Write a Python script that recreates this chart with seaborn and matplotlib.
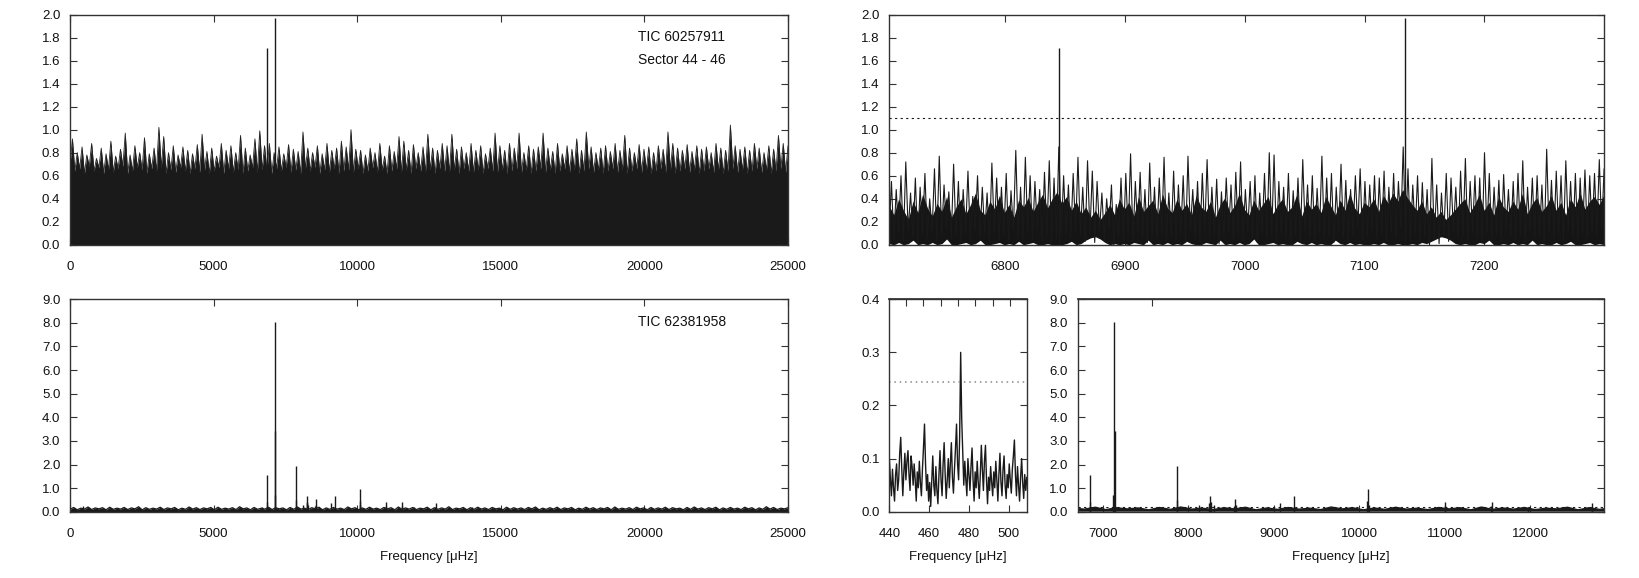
import numpy as np
import matplotlib
matplotlib.use("Agg")
import matplotlib.pyplot as plt
from matplotlib.ticker import FormatStrFormatter
import seaborn as sns

# ---------------- data (amplitudes) ----------------
# TIC 60257911, overview envelope 0-25000 uHz (hundredths)
tl_env = [70,92, 64,80, 66,85, 62,78, 68,88, 64,75, 67,84, 62,79, 65,90, 63,77,
          66,83, 68,97, 62,78, 64,86, 67,80, 65,93, 62,79, 66,84, 64,102, 67,94,
          62,80, 65,86, 63,78, 67,85, 64,82, 62,79, 66,87, 63,96, 65,81, 62,84,
          64,77, 67,88, 62,82, 66,86, 63,80, 65,95, 62,84, 64,78, 67,92, 63,99,
          65,86, 64,88, 62,80, 66,85, 64,79, 67,87, 63,83, 65,81, 62,98, 66,84,
          64,80, 67,86, 62,79, 65,88, 63,82, 66,84, 62,90, 64,85, 65,100, 63,83,
          66,82, 62,78, 64,84, 67,80, 63,88, 65,77, 62,86, 64,81, 66,94, 63,90,
          65,82, 62,87, 66,80, 64,85, 63,96, 65,84, 62,82, 66,88, 64,86, 63,96,
          65,83, 62,85, 66,80, 64,88, 63,82, 65,86, 62,79, 66,84, 64,97, 63,86,
          65,82, 62,88, 64,84, 66,97, 63,80, 65,86, 62,83, 64,85, 66,97, 63,84,
          65,81, 62,88, 64,79, 66,86, 63,83, 65,92, 62,82, 64,98, 66,85, 63,80,
          65,84, 62,86, 64,81, 66,88, 63,82, 65,95, 62,84, 64,80, 66,87, 63,83,
          65,85, 62,80, 64,86, 66,83, 63,98, 65,88, 62,84, 64,82, 66,87, 63,81,
          65,86, 62,83, 64,85, 66,80, 63,88, 65,84, 62,82, 64,104, 66,86, 63,83,
          65,85, 62,82, 64,88, 66,84, 63,80, 65,86, 62,83, 64,95, 66,88, 63,86]

# TIC 60257911, zoom 6703-7300 uHz (hundredths): trough/peak pairs
tr_amp = [8,55, 4,48, 10,60, 3,72, 12,45, 6,58, 2,50, 9,62, 5,40, 11,66,
          3,77, 8,52, 14,46, 5,70, 7,55, 2,48, 10,64, 4,42, 12,60, 6,50,
          9,45, 3,71, 11,58, 5,50, 8,62, 2,47, 13,82, 6,50, 4,76, 10,60,
          5,55, 12,48, 3,63, 8,73, 2,58, 4,85, 7,60, 9,52, 6,62, 11,76,
          8,50, 3,73, 10,64, 2,55, 12,45, 5,40, 14,52, 0,35, 6,58, 3,62,
          9,79, 4,55, 11,63, 6,48, 2,71, 8,50, 5,58, 10,76, 3,45, 7,64,
          4,52, 9,60, 2,77, 12,48, 6,55, 3,62, 10,74, 5,50, 8,57, 1,46,
          7,58, 11,52, 4,63, 9,72, 3,48, 12,55, 6,60, 2,45, 10,62, 5,80,
          8,78, 3,55, 11,50, 6,62, 2,47, 9,58, 4,74, 12,52, 7,60, 3,49,
          10,77, 5,58, 8,62, 2,50, 11,70, 6,56, 3,48, 9,60, 14,66, 4,55,
          7,52, 12,60, 5,58, 9,64, 3,50, 11,62, 6,55, 15,85, 8,66, 4,52,
          10,60, 2,54, 7,48, 0,75, 5,52, 1,45, 9,62, 3,58, 12,50, 6,64,
          8,75, 4,55, 11,60, 6,58, 2,80, 10,62, 5,50, 9,56, 3,61, 12,48,
          7,55, 4,62, 9,73, 2,50, 11,58, 6,60, 8,52, 3,83, 10,56, 5,64,
          9,60, 4,73, 12,55, 7,62, 3,58, 10,65, 6,60, 11,62, 8,74, 13,66]

# TIC 60257911, zoom: top of the dense core of the spectrum (hundredths, 150 bins)
tr_core = [34,26,40,30,22,38,28,44,32,25, 36,29,42,24,33,40,27,35,45,30,
           26,38,31,43,28,35,24,39,33,41, 29,37,44,32,40,46,36,42,30,38,
           27,33,24,30,22,28,35,26,40,31, 37,25,42,29,34,39,27,44,32,28,
           40,30,36,26,43,33,29,38,24,35, 41,28,34,45,31,26,39,30,36,42,
           27,35,40,29,33,44,25,38,31,36, 28,42,34,26,39,30,45,32,27,37,
           33,40,29,43,36,45,38,48,41,35, 30,38,27,33,24,29,22,26,31,36,
           40,28,35,44,30,37,26,42,33,29, 38,31,45,27,36,41,29,34,43,30,
           37,26,40,33,45,31,38,42,35,44]
# TIC 60257911, zoom: bottom of the dense core (hundredths, 150 bins)
tr_floor = [1,0,2,0,1,4,0,1,0,2, 0,1,5,0,0,1,2,0,1,4,
            0,0,1,2,0,1,0,3,0,1, 2,0,0,1,0,0,0,1,3,0,
            1,4,6,7,5,2,0,1,0,1, 0,2,1,0,4,0,1,0,2,0,
            1,0,3,1,0,0,2,1,0,4, 0,1,0,2,0,1,5,0,0,1,
            2,0,1,0,0,3,1,0,2,0, 1,0,0,4,1,0,2,0,1,0,
            0,1,0,2,0,0,1,0,0,1, 0,2,1,3,5,7,6,4,1,0,
            1,0,0,2,1,4,0,0,1,0, 2,0,1,0,4,0,1,0,0,2,
            0,1,3,0,0,1,2,0,1,0]

# main peaks of TIC 60257911
pk_a_freq = [6845, 7134]
pk_a_amp = [1.71, 1.97]

# TIC 62381958, low-frequency window 440-509 uHz (thousandths)
sm_amp = [100, 60, 30, 80, 45, 20, 70, 90, 40, 60, 110, 140, 80, 30, 75, 110, 60, 95, 115, 70,
          40, 105, 85, 50, 90, 60, 20, 75, 45, 95, 55, 30, 80, 120, 165, 90, 40, 70, 20, 55,
          10, 60, 105, 50, 30, 85, 40, 15, 70, 115, 60, 30, 90, 130, 70, 25, 60, 100, 45, 90,
          130, 65, 35, 80, 120, 165, 90, 60, 140, 300, 175, 110, 50, 95, 60, 30, 100, 70, 40, 85,
          120, 60, 20, 75, 45, 95, 55, 25, 70, 125, 80, 40, 95, 125, 60, 15, 65, 40, 85, 55,
          30, 75, 45, 95, 60, 20, 70, 110, 55, 30, 80, 105, 50, 25, 70, 45, 90, 60, 35, 80,
          105, 135, 70, 30, 85, 50, 20, 65, 100, 55, 25, 70, 40, 65]

# TIC 62381958, noise floor 0-25000 uHz (hundredths)
base_b = [10,18, 8,15, 11,20, 9,16, 12,17, 8,19, 10,15, 11,18, 9,16, 12,21,
          8,17, 10,15, 11,19, 9,16, 12,18, 8,15, 10,20, 11,17, 9,16, 12,18,
          8,19, 10,15, 11,17, 9,21, 12,16, 8,18, 10,15, 11,19, 9,17, 12,16,
          8,18, 10,20, 11,15, 9,17, 12,19, 8,16, 10,18, 11,15, 9,20, 12,17,
          8,16, 10,19, 11,15, 9,18, 12,17, 8,20, 10,16, 11,18, 9,15, 12,19,
          8,17, 10,16, 11,21, 9,15, 12,18, 8,17, 10,19, 11,16, 9,18, 12,15,
          8,19, 10,17, 11,16, 9,18, 12,20, 8,15, 10,17, 11,19, 9,16, 12,18,
          8,15, 10,19, 11,17, 9,16, 12,18, 8,20, 10,15, 11,17, 9,19, 12,16,
          8,18, 10,16, 11,19, 9,17, 12,15, 8,18, 10,20, 11,16, 9,17, 12,19,
          8,16, 10,18, 11,15, 9,19, 12,17, 8,16, 10,21, 11,18, 9,15, 12,17]

# peaks of TIC 62381958
pk_b_freq = [450, 6700, 6845, 6855, 7120, 7134, 7145, 7865, 7870, 8120, 8240, 8250, 8262,
             8300, 8530, 8548, 8560, 9070, 9240, 10095, 10100, 10110, 11000, 11008,
             11545, 11552, 11980, 12725, 12730, 14000]
pk_b_amp = [0.25, 0.18, 1.55, 0.40, 0.70, 8.05, 3.40, 0.50, 1.95, 0.30, 0.35, 0.65, 0.40,
            0.30, 0.25, 0.55, 0.30, 0.35, 0.65, 0.45, 0.95, 0.30, 0.40, 0.25,
            0.25, 0.40, 0.22, 0.20, 0.35, 0.18]

# significance thresholds
thr_a = 1.10
thr_b = 0.21
thr_sm = 0.245

# tick marks
tl_xticks = [0, 5000, 10000, 15000, 20000, 25000]
tr_xticks = [6800, 6900, 7000, 7100, 7200]
sm_xticks = [440, 460, 480, 500]
sm_top_ticks = [448.4, 457.1, 465.8, 474.5, 483.2, 491.9, 500.6]
br_xticks = [7000, 8000, 9000, 10000, 11000, 12000]
br_top_ticks = [7570]

labels_tl = ["TIC 60257911", "Sector 44 - 46"]
label_bl = "TIC 62381958"
xlabel = "Frequency [\u03bcHz]"

# ---------------- style ----------------
sns.set_theme(style="ticks")
plt.rcParams["font.family"] = ["Liberation Sans", "DejaVu Sans"]
plt.rcParams["font.size"] = 9.5
FRAME = "#333333"
TXT = "#111111"

fig = plt.figure(figsize=(16.4, 5.78), dpi=100)
ax_tl = fig.add_axes([0.0427, 0.5765, 0.4378, 0.3983])
ax_tr = fig.add_axes([0.5421, 0.5765, 0.4360, 0.3983])
ax_bl = fig.add_axes([0.0427, 0.1147, 0.4378, 0.3675])
ax_sm = fig.add_axes([0.5423, 0.1147, 0.0838, 0.3675])
ax_br = fig.add_axes([0.6571, 0.1147, 0.3209, 0.3675])


def style(ax, top=True):
    for s in ax.spines.values():
        s.set_color(FRAME)
        s.set_linewidth(1.0)
    ax.tick_params(direction="in", length=5, width=0.8, color=FRAME,
                   top=top, right=True, labelsize=9.5, labelcolor=TXT)
    ax.tick_params(axis="x", pad=12)
    ax.tick_params(axis="y", pad=7)
    ax.set_xlabel("")
    ax.set_ylabel("")


# top-left: overview of TIC 60257911
x_tl = np.linspace(0, 25000, len(tl_env))
y_tl = np.array(tl_env) / 100
ax_tl.fill_between(x_tl, 0, y_tl, color="k", lw=0)
sns.lineplot(x=x_tl, y=y_tl, ax=ax_tl, color="#222222", lw=0.6, estimator=None)
ax_tl.vlines(pk_a_freq, 0, pk_a_amp, color="k", lw=1.0)
ax_tl.set_xlim(0, 25000)
ax_tl.set_ylim(0, 2.0)
ax_tl.set_xticks(tl_xticks)
ax_tl.set_yticks(np.arange(0, 2.01, 0.2))
ax_tl.yaxis.set_major_formatter(FormatStrFormatter("%.1f"))
ax_tl.text(0.852, 0.904, labels_tl[0], transform=ax_tl.transAxes, ha="center",
           va="center", fontsize=10, color=TXT)
ax_tl.text(0.852, 0.803, labels_tl[1], transform=ax_tl.transAxes, ha="center",
           va="center", fontsize=10, color=TXT)
style(ax_tl)

# top-right: zoom of TIC 60257911
x_core = np.linspace(6703, 7300, len(tr_core))
ax_tr.fill_between(x_core, np.array(tr_floor) / 100, np.array(tr_core) / 100,
                   color="#151515", lw=0)
x_tr = np.linspace(6703, 7300, len(tr_amp))
y_tr = np.array(tr_amp) / 100
sns.lineplot(x=x_tr, y=y_tr, ax=ax_tr, color="k", lw=0.8, estimator=None)
ax_tr.vlines(pk_a_freq, 0, pk_a_amp, color="k", lw=1.0)
ax_tr.axhline(thr_a, color="k", lw=0.8, ls=(0, (2, 3)))
ax_tr.set_xlim(6703, 7300)
ax_tr.set_ylim(0, 2.0)
ax_tr.set_xticks(tr_xticks)
ax_tr.set_yticks(np.arange(0, 2.01, 0.2))
ax_tr.yaxis.set_major_formatter(FormatStrFormatter("%.1f"))
style(ax_tr)

# bottom-left: overview of TIC 62381958
x_b = np.linspace(0, 25000, len(base_b))
y_b = np.array(base_b) / 100
ax_bl.fill_between(x_b, 0, y_b, color="k", lw=0)
sns.lineplot(x=x_b, y=y_b, ax=ax_bl, color="k", lw=0.9, estimator=None)
ax_bl.vlines(pk_b_freq, 0, pk_b_amp, color="k", lw=1.0)
ax_bl.set_xlim(0, 25000)
ax_bl.set_ylim(0, 9.0)
ax_bl.set_xticks(tl_xticks)
ax_bl.set_yticks(np.arange(0, 9.01, 1.0))
ax_bl.yaxis.set_major_formatter(FormatStrFormatter("%.1f"))
ax_bl.text(0.852, 0.895, label_bl, transform=ax_bl.transAxes, ha="center",
           va="center", fontsize=10, color=TXT)
style(ax_bl)
ax_bl.set_xlabel(xlabel, fontsize=9.5, color=TXT, labelpad=8)

# bottom-middle: low-frequency window
x_sm = np.linspace(440, 509, len(sm_amp))
y_sm = np.array(sm_amp) / 1000
sns.lineplot(x=x_sm, y=y_sm, ax=ax_sm, color="#1a1a1a", lw=1.0, estimator=None)
ax_sm.axhline(thr_sm, color="#888888", lw=1.1, ls=(0, (1, 2.5)))
ax_sm.set_xlim(440, 509)
ax_sm.set_ylim(0, 0.4)
ax_sm.set_xticks(sm_xticks)
ax_sm.set_yticks(np.arange(0, 0.41, 0.1))
ax_sm.yaxis.set_major_formatter(FormatStrFormatter("%.1f"))
style(ax_sm, top=False)
sec = ax_sm.secondary_xaxis("top")
sec.set_xticks(sm_top_ticks)
sec.tick_params(direction="in", length=5, width=0.8, color=FRAME, labeltop=False)
sec.spines["top"].set_color(FRAME)
ax_sm.set_xlabel(xlabel, fontsize=9.5, color=TXT, labelpad=8)

# bottom-right: zoom of TIC 62381958
ax_br.fill_between(x_b, 0, y_b, color="k", lw=0)
sns.lineplot(x=x_b, y=y_b, ax=ax_br, color="k", lw=0.9, estimator=None)
ax_br.vlines(pk_b_freq, 0, pk_b_amp, color="k", lw=1.0)
ax_br.axhline(thr_b, color="k", lw=0.8, ls=(0, (2, 3)))
ax_br.set_xlim(6705, 12865)
ax_br.set_ylim(0, 9.0)
ax_br.set_xticks(br_xticks)
ax_br.set_yticks(np.arange(0, 9.01, 1.0))
ax_br.yaxis.set_major_formatter(FormatStrFormatter("%.1f"))
style(ax_br, top=False)
sec2 = ax_br.secondary_xaxis("top")
sec2.set_xticks(br_top_ticks)
sec2.tick_params(direction="in", length=5, width=0.8, color=FRAME, labeltop=False)
sec2.spines["top"].set_color(FRAME)
ax_br.set_xlabel(xlabel, fontsize=9.5, color=TXT, labelpad=8)

fig.savefig("out.png", dpi=100)
